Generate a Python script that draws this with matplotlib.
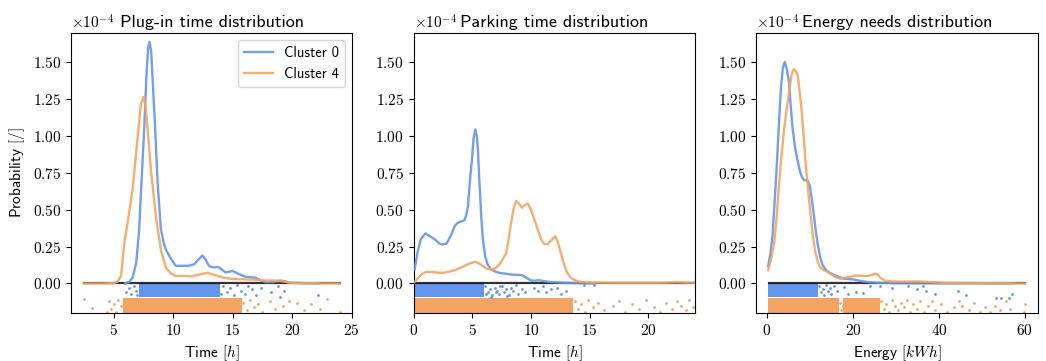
import numpy as np
import matplotlib
matplotlib.use('Agg')
import matplotlib.pyplot as plt
from matplotlib.ticker import FuncFormatter, MultipleLocator

plt.rcParams['font.family'] = ['cmss10', 'DejaVu Sans']
plt.rcParams['mathtext.fontset'] = 'cm'
plt.rcParams['axes.unicode_minus'] = False

BLUE = '#6495ED'
ORANGE = '#F4A460'
SCALE = 1e-4

titles = ['Plug-in time distribution', 'Parking time distribution', 'Energy needs distribution']
xlabels = [r'Time $[h]$', r'Time $[h]$', r'Energy $[kWh]$']
labels = ['Cluster 0', 'Cluster 4']

# ---- KDE curves (values in units of 1e-4) ----
plug_c0_x = [5.95, 6.3, 6.6, 6.9, 7.15, 7.35, 7.57, 7.75, 7.9, 8.02, 8.15, 8.3, 8.49, 8.7, 8.97, 9.2, 9.39,
             9.8, 10.22, 10.78, 11.3, 11.76, 12.1, 12.46, 12.75, 13.0, 13.3, 13.85, 14.4, 14.97, 15.5, 16.1,
             16.9, 17.4, 17.8, 18.4, 19.0, 19.4, 19.7, 20.5, 22.2]
plug_c0_y = [0.0, 0.01, 0.04, 0.14, 0.37, 0.7, 1.05, 1.4, 1.6, 1.638, 1.58, 1.35, 1.05, 0.68, 0.37, 0.28, 0.23,
             0.17, 0.12, 0.12, 0.12, 0.13, 0.16, 0.19, 0.16, 0.12, 0.11, 0.11, 0.075, 0.085, 0.065, 0.045,
             0.04, 0.02, 0.008, 0.01, 0.02, 0.015, 0.005, 0.003, 0.0]
plug_c4_x = [2.5, 4.0, 5.0, 5.3, 5.62, 5.9, 6.26, 6.6, 7.0, 7.29, 7.49, 7.65, 7.77, 8.13, 8.55, 8.97, 9.39,
             9.8, 10.22, 10.6, 11.06, 11.6, 12.3, 12.87, 13.4, 14.2, 15.0, 16.0, 17.0, 17.8, 18.6, 19.4,
             20.0, 22.0, 24.0]
plug_c4_y = [0.0, 0.0, 0.003, 0.01, 0.05, 0.276, 0.457, 0.64, 0.98, 1.215, 1.265, 1.22, 1.136, 0.774, 0.457,
             0.23, 0.106, 0.07, 0.05, 0.052, 0.05, 0.048, 0.063, 0.072, 0.06, 0.04, 0.03, 0.028, 0.025, 0.02,
             0.02, 0.012, 0.005, 0.001, 0.0]

park_c0_x = [0.08, 0.3, 0.6, 1.0, 1.4, 1.79, 2.2, 2.5, 2.8, 3.2, 3.5, 3.72, 4.0, 4.34, 4.5, 4.63, 4.8, 4.97,
             5.1, 5.25, 5.38, 5.48, 5.6, 5.76, 5.9, 6.1, 6.3, 6.6, 7.0, 7.32, 8.3, 9.0, 9.3, 9.6, 10.0, 10.4,
             10.7, 11.2, 11.7, 12.5, 13.5, 15.5]
park_c0_y = [0.095, 0.2, 0.3, 0.34, 0.32, 0.30, 0.27, 0.265, 0.27, 0.33, 0.39, 0.41, 0.42, 0.43, 0.47, 0.525,
             0.7, 0.84, 0.98, 1.045, 1.0, 0.91, 0.7, 0.457, 0.3, 0.185, 0.13, 0.095, 0.08, 0.072, 0.061,
             0.058, 0.055, 0.04, 0.02, 0.02, 0.022, 0.015, 0.01, 0.006, 0.003, 0.0]
park_c4_x = [0.08, 0.4, 0.8, 1.08, 1.6, 2.0, 2.5, 3.0, 3.49, 4.0, 4.48, 4.9, 5.2, 5.5, 5.9, 6.2, 6.6, 6.9,
             7.18, 7.5, 7.89, 8.1, 8.26, 8.5, 8.74, 8.95, 9.22, 9.45, 9.73, 10.0, 10.3, 10.6, 10.87, 11.1,
             11.38, 11.7, 12.06, 12.3, 12.54, 12.75, 12.97, 13.2, 13.5, 14.0, 14.4, 15.5, 17.0, 19.0, 21.0,
             22.5, 23.2, 24.0]
park_c4_y = [0.01, 0.04, 0.07, 0.079, 0.078, 0.074, 0.072, 0.08, 0.09, 0.107, 0.125, 0.14, 0.147, 0.14,
             0.118, 0.102, 0.095, 0.1, 0.118, 0.15, 0.208, 0.3, 0.39, 0.5, 0.56, 0.545, 0.514, 0.53, 0.543,
             0.5, 0.434, 0.36, 0.3, 0.27, 0.265, 0.29, 0.32, 0.28, 0.208, 0.15, 0.095, 0.06, 0.032, 0.015,
             0.01, 0.006, 0.005, 0.005, 0.005, 0.008, 0.006, 0.005]

energy_c0_x = [0.3, 0.8, 1.3, 1.8, 2.3, 2.8, 3.24, 3.7, 4.16, 4.6, 5.16, 5.5, 5.93, 6.5, 7.1, 7.7, 8.24, 8.7,
               9.26, 9.6, 10.0, 10.5, 10.95, 11.4, 11.9, 12.4, 12.9, 13.6, 14.4, 15.3, 16.3, 17.1, 17.9,
               19.0, 20.2, 21.3, 22.5, 24.0, 27.0, 30.0, 40.0, 50.0, 57.3]
energy_c0_y = [0.118, 0.2, 0.32, 0.55, 0.80, 1.08, 1.317, 1.46, 1.503, 1.46, 1.363, 1.22, 1.068, 0.93, 0.84,
               0.76, 0.717, 0.70, 0.70, 0.69, 0.66, 0.56, 0.457, 0.35, 0.253, 0.18, 0.129, 0.095, 0.077,
               0.062, 0.05, 0.04, 0.032, 0.03, 0.027, 0.02, 0.014, 0.008, 0.004, 0.002, 0.001, 0.001, 0.0]
energy_c4_x = [0.3, 1.0, 1.7, 2.3, 2.85, 3.4, 4.0, 4.5, 4.93, 5.3, 5.7, 6.0, 6.32, 6.7, 7.1, 7.5, 8.0, 8.5,
               9.0, 9.6, 10.2, 10.7, 11.3, 11.9, 12.5, 13.2, 14.0, 14.8, 15.6, 16.3, 17.1, 18.3, 19.5, 20.6,
               22.0, 23.3, 24.4, 25.2, 25.8, 26.4, 27.0, 27.5, 29.0, 32.0, 35.0, 38.0, 41.0, 45.0, 50.0,
               55.0, 60.0]
energy_c4_y = [0.09, 0.17, 0.276, 0.46, 0.684, 0.87, 1.045, 1.16, 1.249, 1.33, 1.407, 1.44, 1.453, 1.44,
               1.419, 1.33, 1.2, 1.02, 0.82, 0.63, 0.457, 0.32, 0.208, 0.14, 0.106, 0.09, 0.081, 0.066, 0.05,
               0.04, 0.032, 0.039, 0.046, 0.054, 0.052, 0.05, 0.058, 0.068, 0.06, 0.039, 0.028, 0.02, 0.014,
               0.013, 0.014, 0.01, 0.005, 0.003, 0.002, 0.001, 0.0]

# data range of the flat zero line per panel
zero_ranges = [(2.5, 24.0), (0.05, 24.0), (0.5, 60.0)]

# ---- rug strips: dense ranges + sparse points ----
plug_c0_band = [(7.1, 13.9)]
plug_c4_band = [(5.8, 15.8)]
park_c0_band = [(0.0, 6.0)]
park_c4_band = [(0.0, 13.6)]
energy_c0_band = [(0.25, 11.8)]
energy_c4_band = [(0.3, 16.8), (17.8, 26.2)]

plug_c0_pts_x = [6.0, 6.3, 6.5, 6.7, 6.9, 7.0, 14.0, 14.2, 14.5, 14.8, 15.1, 15.4, 15.7, 16.0, 16.3, 16.6,
                 17.0, 17.4, 18.2, 18.8, 19.0, 19.3, 22.2]
plug_c0_pts_y = [-0.06, -0.03, -0.07, -0.02, -0.05, -0.08, -0.07, -0.02, -0.06, -0.03, -0.08, -0.01, -0.05,
                 -0.07, -0.02, -0.04, -0.08, -0.03, -0.06, -0.02, -0.09, -0.05, -0.075]
plug_c4_pts_x = [2.49, 3.19, 4.45, 4.6, 4.8, 5.0, 5.2, 5.4, 5.6, 15.9, 16.2, 16.5, 16.8, 17.1, 17.5, 18.1,
                 18.6, 19.2, 19.7, 20.4, 21.0, 21.6, 22.3, 22.9, 24.0]
plug_c4_pts_y = [-0.106, -0.163, -0.19, -0.12, -0.17, -0.14, -0.19, -0.11, -0.15, -0.13, -0.18, -0.11,
                 -0.16, -0.14, -0.19, -0.118, -0.17, -0.15, -0.12, -0.13, -0.18, -0.14, -0.17, -0.106, -0.19]
park_c0_pts_x = [6.1, 6.2, 6.3, 6.5, 6.6, 6.7, 6.9, 7.0, 7.1, 7.3, 7.4, 7.5, 7.7, 7.9, 8.0, 8.1, 8.3, 8.5,
                 8.7, 8.9, 9.2, 9.5, 10.3, 10.6, 11.0, 11.3, 11.7, 12.2, 12.6, 13.0, 14.5, 15.4]
park_c0_pts_y = [-0.02, -0.07, -0.06, -0.04, -0.09, -0.08, -0.03, -0.06, -0.05, -0.07, -0.02, -0.02, -0.06,
                 -0.04, -0.085, -0.08, -0.03, -0.05, -0.01, -0.07, -0.04, -0.06, -0.03, -0.05, -0.02, -0.06,
                 -0.04, -0.03, -0.07, -0.05, -0.01, -0.01]
park_c4_pts_x = [13.8, 14.0, 14.3, 14.6, 14.9, 15.3, 15.7, 16.2, 17.0, 17.5, 18.0, 18.6, 19.2, 19.8, 20.5,
                 21.0, 21.5, 22.0, 22.5, 22.8, 23.2, 23.5, 23.8]
park_c4_pts_y = [-0.12, -0.17, -0.14, -0.19, -0.11, -0.16, -0.13, -0.18, -0.15, -0.12, -0.19, -0.14, -0.17,
                 -0.11, -0.16, -0.19, -0.13, -0.17, -0.12, -0.15, -0.18, -0.11, -0.16]
energy_c0_pts_x = [12.2, 12.6, 13.0, 13.4, 13.8, 14.1, 14.6, 15.0, 15.5, 16.2, 17.9, 18.8, 20.7, 22.4, 24.0,
                   26.4, 29.1, 32.8, 34.9, 36.4, 37.1, 39.0, 44.5, 46.4, 53.4, 54.5, 56.3, 57.0]
energy_c0_pts_y = [-0.02, -0.06, -0.04, -0.08, -0.01, -0.05, -0.03, -0.07, -0.02, -0.05, -0.027, -0.07,
                   -0.06, -0.065, -0.02, -0.018, -0.033, -0.02, -0.035, -0.02, -0.05, -0.07, -0.05, -0.08,
                   -0.1, -0.1, -0.1, -0.07]
energy_c4_pts_x = [16.9, 17.3, 17.6, 26.5, 27.2, 27.8, 28.5, 29.1, 29.8, 30.5, 31.2, 31.9, 32.6, 33.3, 34.0,
                   34.8, 35.7, 36.5, 37.4, 38.3, 39.2, 40.5, 41.8, 43.5, 44.6, 45.3, 47.0, 48.2, 49.5, 50.8,
                   52.0, 53.0, 54.3, 55.5, 56.5, 59.9, 60.0]
energy_c4_pts_y = [-0.13, -0.18, -0.15, -0.12, -0.17, -0.14, -0.19, -0.11, -0.15, -0.18, -0.13, -0.16,
                   -0.11, -0.19, -0.14, -0.17, -0.12, -0.19, -0.15, -0.12, -0.18, -0.14, -0.19, -0.16, -0.12,
                   -0.15, -0.18, -0.13, -0.19, -0.16, -0.19, -0.15, -0.18, -0.12, -0.17, -0.19, -0.14]

panels = [
    dict(c0=(plug_c0_x, plug_c0_y), c4=(plug_c4_x, plug_c4_y),
         b0=plug_c0_band, b4=plug_c4_band,
         p0=(plug_c0_pts_x, plug_c0_pts_y), p4=(plug_c4_pts_x, plug_c4_pts_y),
         xlim=(1.43, 25.07), xticks=[5, 10, 15, 20, 25]),
    dict(c0=(park_c0_x, park_c0_y), c4=(park_c4_x, park_c4_y),
         b0=park_c0_band, b4=park_c4_band,
         p0=(park_c0_pts_x, park_c0_pts_y), p4=(park_c4_pts_x, park_c4_pts_y),
         xlim=(0, 24), xticks=[0, 5, 10, 15, 20]),
    dict(c0=(energy_c0_x, energy_c0_y), c4=(energy_c4_x, energy_c4_y),
         b0=energy_c0_band, b4=energy_c4_band,
         p0=(energy_c0_pts_x, energy_c0_pts_y), p4=(energy_c4_pts_x, energy_c4_pts_y),
         xlim=(-2.47, 62.97), xticks=[0, 20, 40, 60]),
]

fig, axes = plt.subplots(1, 3, figsize=(10.46, 3.61), dpi=100)
fig.subplots_adjust(left=0.068, right=0.992, bottom=0.133, top=0.909, wspace=0.2175)

tick_fmt = FuncFormatter(lambda v, p: r'$%.2f$' % (v / SCALE) if abs(v) > 1e-9 else r'$0.00$')

for i, (ax, pd_) in enumerate(zip(axes, panels)):
    # rug strips
    for x0, x1 in pd_['b0']:
        ax.fill_between([x0, x1], [-0.09 * SCALE] * 2, [0.0, 0.0], color=BLUE, lw=0, zorder=1)
    for x0, x1 in pd_['b4']:
        ax.fill_between([x0, x1], [-0.2 * SCALE] * 2, [-0.095 * SCALE] * 2, color=ORANGE, lw=0, zorder=1)
    ax.scatter(pd_['p0'][0], np.array(pd_['p0'][1]) * SCALE, s=4, color=BLUE, lw=0, zorder=1)
    ax.scatter(pd_['p4'][0], np.array(pd_['p4'][1]) * SCALE, s=4, color=ORANGE, lw=0, zorder=1)

    zx0, zx1 = zero_ranges[i]
    ax.plot([zx0, zx1], [0, 0], color='black', lw=1.6, alpha=0.8, zorder=2)
    ax.plot(pd_['c0'][0], np.array(pd_['c0'][1]) * SCALE, color=BLUE, lw=1.7, alpha=0.9,
            label=labels[0], zorder=3)
    ax.plot(pd_['c4'][0], np.array(pd_['c4'][1]) * SCALE, color=ORANGE, lw=1.7, alpha=0.9,
            label=labels[1], zorder=3)

    ax.set_xlim(*pd_['xlim'])
    ax.set_ylim(-0.2 * SCALE, 1.7 * SCALE)
    ax.set_xticks(pd_['xticks'])
    ax.xaxis.set_major_formatter(FuncFormatter(lambda v, p: r'$%d$' % round(v)))
    ax.yaxis.set_major_locator(MultipleLocator(0.25 * SCALE))
    ax.yaxis.set_major_formatter(tick_fmt)
    ax.tick_params(labelsize=11)
    ax.set_xlabel(xlabels[i], fontsize=11)
    ax.set_title(titles[i], fontsize=13, pad=4)
    ax.text(0.0, 1.005, r'$\times10^{-4}$', transform=ax.transAxes, ha='left', va='bottom', fontsize=11)

axes[0].set_ylabel(r'Probability $[/]$', fontsize=11)
axes[0].legend(loc='upper right', fontsize=10.5)

fig.savefig('out.png', dpi=100)
plt.close(fig)
